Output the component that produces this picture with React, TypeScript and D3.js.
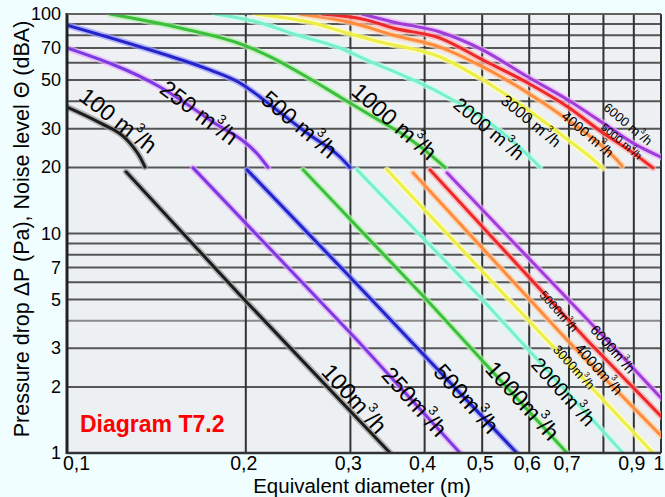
import React from "react";
import * as d3 from "d3";

const W = 665;
const H = 497;

// flows (m3/h)
const flows = [100, 250, 500, 1000, 2000, 3000, 4000, 5000, 6000];

// Noise level curves: [diameter (m), dBA]
const noise100 = [[0.1, 37.7], [0.1137, 31.9], [0.1262, 26.7], [0.1327, 22.3], [0.1353, 20.1]];
const noise250 = [[0.1, 70], [0.1434, 46.5], [0.174, 32.9], [0.2113, 22.3], [0.218, 20]];
const noise500 = [[0.1, 89], [0.1434, 66.4], [0.174, 55.6], [0.1955, 48.5], [0.2113, 41.9], [0.2222, 37.7], [0.2535, 28.7], [0.2882, 22.3], [0.2995, 20]];
const noise1000 = [[0.1181, 100], [0.155, 86.4], [0.1979, 72.3], [0.2222, 63], [0.2535, 51.6], [0.2882, 41.9], [0.3274, 34], [0.3736, 27.5], [0.4245, 21], [0.433, 20]];
const noise2000 = [[0.1775, 100], [0.209, 92], [0.2439, 80.2], [0.2882, 70], [0.32, 61.7], [0.4245, 43.7], [0.5016, 33.6], [0.5677, 25.8], [0.6255, 20.1]];
const noise3000 = [[0.2073, 100], [0.2595, 91], [0.296, 81.9], [0.3364, 74.6], [0.4245, 63.7], [0.5016, 50], [0.5971, 36.5], [0.6973, 26.7], [0.7802, 21], [0.7986, 19.8]];
const noise4000 = [[0.2468, 100], [0.303, 91], [0.3539, 80.2], [0.4245, 70.7], [0.5016, 57.4], [0.5971, 43.7], [0.6973, 32.9], [0.7986, 24.8], [0.8431, 21.6], [0.8597, 20.3]];
const noise5000 = [[0.2687, 100], [0.32, 93.9], [0.3539, 86.4], [0.4245, 77.7], [0.5016, 61.7], [0.5971, 48.5], [0.6973, 37.7], [0.7986, 28.7], [0.8974, 23.3], [0.9694, 19.9]];
const noise6000 = [[0.3138, 100], [0.3539, 92], [0.4245, 82.8], [0.5016, 68.5], [0.5971, 51.6], [0.6973, 40.6], [0.7986, 31.9], [0.8974, 25.8], [1.0, 22.3]];

// Pressure drop lines: [diameter (m), Pa]
const pressure100 = [[0.1257, 19.1], [0.1955, 5.25], [0.35, 1]];
const pressure250 = [[0.163, 19.9], [0.3078, 3.27], [0.459, 1]];
const pressure500 = [[0.201, 19.5], [0.2995, 6.34], [0.572, 1]];
const pressure1000 = [[0.2497, 19.5], [0.4036, 4.98], [0.6947, 1]];
const pressure2000 = [[0.3078, 19.5], [0.4958, 5.14], [0.863, 1]];
const pressure3000 = [[0.3457, 19.5], [0.6428, 3.27], [0.9694, 1]];
const pressure4000 = [[0.3824, 18.9], [0.6947, 3.27], [1.0, 1.2]];
const pressure5000 = [[0.4083, 19.5], [0.7505, 3.27], [1.0, 1.47]];
const pressure6000 = [[0.4363, 18.9], [0.811, 3.27], [1.0, 1.78]];

const noiseSeries = [noise100, noise250, noise500, noise1000, noise2000, noise3000, noise4000, noise5000, noise6000];
const pressureSeries = [pressure100, pressure250, pressure500, pressure1000, pressure2000, pressure3000, pressure4000, pressure5000, pressure6000];

// label anchors in data units [d, value]
const noiseLabelAt = [[0.1214, 32.2], [0.1662, 35], [0.2449, 30.9], [0.3539, 31.9], [0.5113, 29.6], [0.6018, 32.2], [0.7505, 28.1], [0.8565, 26.1], [0.877, 31.2]];
const pressureLabelAt = [[0.303, 1.744], [0.3824, 1.69], [0.4677, 1.744], [0.5812, 1.707], [0.6813, 1.876], [0.711, 2.44], [0.7834, 2.39], [0.6709, 4.39], [0.827, 2.95]];

// axes
const xGrid = [0.2, 0.3, 0.4, 0.5, 0.6, 0.7, 0.8, 0.9, 1.0];
const yGrid = [2, 3, 4, 5, 6, 7, 8, 9, 10, 20, 30, 40, 50, 60, 70, 80, 90, 100];
const xTickValues = [0.1, 0.2, 0.3, 0.4, 0.5, 0.6, 0.7, 0.9, 1];
const xTickLabels = ["0,1", "0,2", "0,3", "0,4", "0,5", "0,6", "0,7", "0,9", "1"];
const yTickValues = [100, 70, 50, 30, 20, 10, 7, 5, 3, 2, 1];
const yTickLabels = ["100", "70", "50", "30", "20", "10", "7", "5", "3", "2", "1"];

// styles
const colors = ["#1c1c1c", "#7a3ce0", "#2424c8", "#3cbf3c", "#78f0c8", "#eeee44", "#ff8c3c", "#ee2828", "#a03cd8"];
const halos = ["#9a9a9a", "#eaa8ff", "#9a9aff", "#b0f0a8", "#c8fff0", "#ffffb8", "#ffd0a8", "#ffa8a8", "#eab4ff"];
const noiseLabelSize = [23, 23, 23, 23, 19, 16, 14, 11, 13];
const noiseLabelAngle = [38, 37, 40, 41, 40, 40, 40, 40, 40];
const pressureLabelSize = [23, 23, 23, 23, 20, 13, 15, 12, 14];
const pressureLabelAngle = [48, 48, 48, 48, 48, 48, 48, 48, 48];

const FONT = "'Liberation Sans', Arial, Helvetica, sans-serif";

const L = 67, R = 661, T = 14, B = 453;

function FlowLabel({ x, y, angle, size, flow, space }) {
  return (
    <text
      transform={`translate(${x},${y}) rotate(${angle})`}
      textAnchor="middle"
      dominantBaseline="middle"
      fontSize={size}
      fontFamily={FONT}
      fill="#000"
    >
      {`${flow}${space ? " " : ""}m`}
      <tspan fontSize={size * 0.58} dy={-size * 0.42}>3</tspan>
      <tspan dy={size * 0.42}>/h</tspan>
    </text>
  );
}

export default function App() {
  const x = d3.scaleLog().domain([0.1, 1]).range([L, R]);
  const y = d3.scaleLog().domain([1, 100]).range([B, T]);

  const curveLine = d3
    .line<number[]>()
    .x((p) => x(p[0]))
    .y((p) => y(p[1]))
    .curve(d3.curveMonotoneX);
  const straightLine = d3
    .line<number[]>()
    .x((p) => x(p[0]))
    .y((p) => y(p[1]));

  return (
    <svg
      width={W}
      height={H}
      style={{ position: "absolute", left: 0, top: 0, display: "block" }}
    >
      <defs>
        <clipPath id="plot">
          <rect x={L} y={T} width={R - L} height={B - T} />
        </clipPath>
        <linearGradient id="bg" x1="0" y1="0" x2="0" y2="1">
          <stop offset="0" stopColor="#eef0f3" />
          <stop offset="1" stopColor="#ecf0f2" />
        </linearGradient>
      </defs>
      <rect x={0} y={0} width={W} height={H} fill="#f0feff" />
      <rect x={L} y={T} width={R - L} height={B - T} fill="url(#bg)" />

      {/* horizontal grid */}
      {yGrid.map((v) => (
        <line
          key={"h" + v}
          x1={L}
          x2={R}
          y1={y(v)}
          y2={y(v)}
          stroke={v === 4 ? "#8a8a8a" : "#555"}
          strokeWidth={2}
        />
      ))}
      {/* vertical grid */}
      {xGrid.map((d) => (
        <line
          key={"v" + d}
          x1={x(d)}
          x2={x(d)}
          y1={T}
          y2={B}
          stroke="#333"
          strokeWidth={2}
        />
      ))}

      <g clipPath="url(#plot)" fill="none" strokeLinecap="round">
        {noiseSeries.map((s, i) => (
          <g key={"n" + i}>
            <path d={curveLine(s) || ""} stroke={halos[i]} strokeWidth={6.5} opacity={0.7} />
            <path d={curveLine(s) || ""} stroke={colors[i]} strokeWidth={3} />
          </g>
        ))}
        {pressureSeries.map((s, i) => (
          <g key={"p" + i}>
            <path d={straightLine(s) || ""} stroke={halos[i]} strokeWidth={6.5} opacity={0.7} />
            <path d={straightLine(s) || ""} stroke={colors[i]} strokeWidth={3} />
          </g>
        ))}
      </g>

      {/* axes frame */}
      <line x1={L} x2={L} y1={T - 1} y2={B + 1} stroke="#222" strokeWidth={3} />
      <line x1={L} x2={R} y1={B} y2={B} stroke="#333" strokeWidth={2.5} />
      <line x1={L} x2={R} y1={T} y2={T} stroke="#666" strokeWidth={1.5} />

      {/* labels on curves */}
      {flows.map((f, i) => (
        <FlowLabel
          key={"nl" + f}
          x={x(noiseLabelAt[i][0])}
          y={y(noiseLabelAt[i][1])}
          angle={noiseLabelAngle[i]}
          size={noiseLabelSize[i]}
          flow={f}
          space={true}
        />
      ))}
      {flows.map((f, i) => (
        <FlowLabel
          key={"pl" + f}
          x={x(pressureLabelAt[i][0])}
          y={y(pressureLabelAt[i][1])}
          angle={pressureLabelAngle[i]}
          size={pressureLabelSize[i]}
          flow={f}
          space={false}
        />
      ))}

      {/* tick labels */}
      {xTickValues.map((d, i) => (
        <text
          key={"xt" + i}
          x={i === 0 ? x(d) - 4 : x(d) - 2}
          y={470}
          textAnchor={i === 0 ? "start" : "middle"}
          fontSize={19.5}
          fontFamily={FONT}
          fill="#000"
        >
          {xTickLabels[i]}
        </text>
      ))}
      {yTickValues.map((v, i) => (
        <text
          key={"yt" + i}
          x={61}
          y={y(v)}
          textAnchor="end"
          dominantBaseline="central"
          fontSize={18}
          fontFamily={FONT}
          fill="#000"
        >
          {yTickLabels[i]}
        </text>
      ))}

      {/* axis titles */}
      <text
        transform={`translate(29,229) rotate(-90)`}
        textAnchor="middle"
        fontSize={21.5}
        fontFamily={FONT}
        fill="#000"
      >
        Pressure drop ΔP (Pa), Noise level Θ (dBA)
      </text>
      <text
        x={362}
        y={492.5}
        textAnchor="middle"
        fontSize={20.5}
        fontFamily={FONT}
        fill="#000"
      >
        Equivalent diameter (m)
      </text>

      <text
        x={80}
        y={432}
        fontSize={23}
        fontWeight="bold"
        fontFamily={FONT}
        fill="#ff0000"
      >
        Diagram T7.2
      </text>
    </svg>
  );
}
